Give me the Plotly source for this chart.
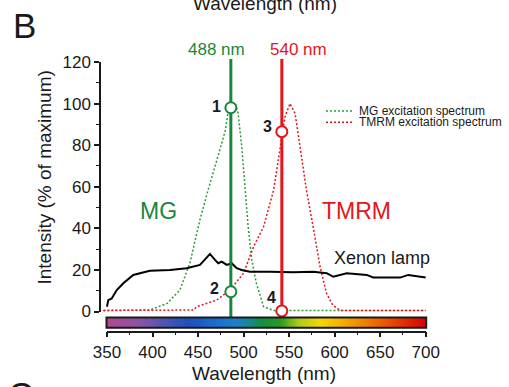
import numpy as np
import plotly.graph_objects as go

W, H = 509, 387
FONT = "Liberation Sans, Arial, sans-serif"
GREEN = "#17873a"
RED = "#e3161d"
DGREEN = "#2a9a3a"

# ---------------- data ----------------
mg_wl = [346, 380, 397, 416, 430, 441, 452, 461, 470, 476, 480, 483, 487, 491, 494, 498,
         501.5, 505, 509, 514, 522, 533, 560, 600, 650, 700]
mg_val = [0.5, 0.5, 0.7, 3.9, 10.3, 23.2, 44, 58.4, 71.3, 80.9, 87.2, 96.1, 99, 100, 95.3,
          79.3, 60, 40.8, 24.8, 13.6, 2.3, 0.5, 0.5, 0.5, 0.5, 0.5]

tmrm_wl = [346, 400, 445, 448.5, 470.5, 485, 500, 511, 522, 533, 540, 545.5, 551, 556.5,
           562, 569, 577, 584, 591, 598, 606, 650, 700]
tmrm_val = [0.5, 0.5, 0.7, 2.3, 5.5, 10.3, 18.4, 31.2, 40.8, 58.4, 79.3, 93.7, 100, 95.3,
            79.3, 58.4, 39.2, 21.5, 8.8, 3, 0.5, 0.5, 0.5]

xenon_wl = [350, 351.4, 355.2, 360.7, 367.9, 378.9, 386.2, 397.2, 419.2, 437.5, 452.1, 463.1,
            468.6, 472.2, 476, 481.5, 486.9, 492.4, 497.9, 507, 529, 554.6, 576.6, 591.3,
            598.5, 613.2, 635.2, 642.4, 671.8, 680.9, 700]
xenon_val = [2.3, 5.5, 6.3, 10.3, 13.6, 17.6, 18.4, 19.6, 20, 20.8, 22.4, 27.7, 24.8, 23.2,
             24, 22.4, 23.2, 20.8, 20, 19.1, 19.1, 18.9, 19.1, 18.4, 16.7, 18.4, 17.6, 16.4,
             16.3, 17.6, 16.4]

laser_nm = [486, 542]
laser_labels = ["488 nm", "540 nm"]
laser_top = 121.5
laser_bottom = [-2.8, 0.3]

point_nm = [486, 486, 542, 542]
point_val = [98, 9.5, 86.5, 0.3]
point_labels = ["1", "2", "3", "4"]

x_ticks = [350, 400, 450, 500, 550, 600, 650, 700]
y_ticks = [0, 20, 40, 60, 80, 100, 120]

spectrum_nm = [350, 385, 415, 440, 470, 490, 505, 520, 540, 560, 585, 615, 645, 675, 700]
spectrum_col = ["#b4468c", "#8a55a6", "#4a55b4", "#1e4fbe", "#1a6fd2", "#1d7fcc", "#128a9a",
                "#119042", "#2a9a20", "#aacc18", "#f7d800", "#f5a000", "#ee6a00", "#e43000",
                "#d80000"]

# ---------------- geometry (pixels) ----------------
X350, X700 = 107.0, 425.7
Y0, Y120 = 311.5, 62.0
pxnm = (X700 - X350) / 350.0
pxv = (Y0 - Y120) / 120.0


def px2wl(px):
    return 350 + (px - X350) / pxnm


def py2v(py):
    return (Y0 - py) / pxv


def fx(px):
    return px / W


def fy(py):
    return (H - py) / H


dxl, dxr, dyb, dyt = 90, 480, 335, 40

fig = go.Figure()

# dotted excitation spectra
fig.add_trace(go.Scatter(x=mg_wl, y=mg_val, mode="lines",
                         line=dict(color=DGREEN, width=1.5, dash="2px,2px"), xaxis="x", yaxis="y"))
fig.add_trace(go.Scatter(x=tmrm_wl, y=tmrm_val, mode="lines",
                         line=dict(color=RED, width=1.5, dash="2px,2px"), xaxis="x", yaxis="y"))
# xenon lamp
fig.add_trace(go.Scatter(x=xenon_wl, y=xenon_val, mode="lines",
                         line=dict(color="black", width=2), xaxis="x", yaxis="y"))
# laser lines
for nm, bot, col in zip(laser_nm, laser_bottom, [GREEN, RED]):
    fig.add_trace(go.Scatter(x=[nm, nm], y=[bot, laser_top], mode="lines",
                             line=dict(color=col, width=3), xaxis="x", yaxis="y"))
# points
pcols = [GREEN, GREEN, RED, RED]
fig.add_trace(go.Scatter(x=point_nm, y=point_val, mode="markers",
                         marker=dict(size=11, color="white", line=dict(color=pcols, width=2)),
                         xaxis="x", yaxis="y"))

# empty trace that registers the visible axis pair
fig.add_trace(go.Scatter(x=[], y=[], mode="lines", hoverinfo="skip", xaxis="x2", yaxis="y2"))

# spectrum colour bar (heatmap)
edges = np.linspace(350, 700, 351)
mids = (edges[:-1] + edges[1:]) / 2
cs = [[(n - 350) / 350.0, c] for n, c in zip(spectrum_nm, spectrum_col)]
fig.add_trace(go.Heatmap(x=edges, y=[0, 1], z=[mids], colorscale=cs, zmin=350, zmax=700,
                         showscale=False, hoverinfo="skip", xaxis="x3", yaxis="y3"))

hidden = dict(showline=False, showticklabels=False, showgrid=False, zeroline=False, ticks="")

fig.update_layout(
    width=W, height=H, autosize=False,
    margin=dict(l=0, r=0, t=0, b=0, pad=0, autoexpand=False),
    paper_bgcolor="white", plot_bgcolor="rgba(0,0,0,0)",
    showlegend=False,
    font=dict(family=FONT, color="#1a1a1a"),
    xaxis=dict(domain=[fx(dxl), fx(dxr)], range=[px2wl(dxl), px2wl(dxr)], anchor="y", **hidden),
    yaxis=dict(domain=[fy(dyb), fy(dyt)], range=[py2v(dyb), py2v(dyt)], anchor="x", **hidden),
    xaxis2=dict(domain=[fx(X350), fx(X700)], range=[350, 700], anchor="free", position=fy(331.5),
                showline=True, linecolor="#1a1a1a", linewidth=1.5, showgrid=False, zeroline=False,
                tickmode="array", tickvals=x_ticks, ticktext=[str(v) for v in x_ticks],
                ticks="outside", ticklen=5, tickwidth=1.5, tickcolor="#1a1a1a",
                tickfont=dict(size=17, family=FONT, color="#1a1a1a"),
                minor=dict(dtick=25, tick0=350, ticks="outside", ticklen=3, tickwidth=1.2,
                           tickcolor="#1a1a1a")),
    yaxis2=dict(domain=[fy(Y0), fy(Y120)], range=[0, 120], anchor="free", position=fx(100),
                showline=True, linecolor="#1a1a1a", linewidth=1.5, showgrid=False, zeroline=False,
                tickmode="array", tickvals=y_ticks, ticktext=[str(v) for v in y_ticks],
                ticks="outside", ticklen=5, tickwidth=1.5, tickcolor="#1a1a1a",
                tickfont=dict(size=17, family=FONT, color="#1a1a1a"),
                minor=dict(dtick=10, tick0=0, ticks="outside", ticklen=3, tickwidth=1.2,
                           tickcolor="#1a1a1a")),
    xaxis3=dict(domain=[fx(X350), fx(X700)], range=[350, 700], anchor="y3", **hidden),
    yaxis3=dict(domain=[fy(327.5), fy(317.7)], range=[0, 1], anchor="x3", **hidden),
)

# colour bar border
fig.add_shape(type="rect", xref="paper", yref="paper", x0=fx(106.5), x1=fx(426.2),
              y0=fy(327.8), y1=fy(317.4), line=dict(color="#1a1a1a", width=2), layer="above")

ann = []


def txt(text, x, y, size, color="#1a1a1a", xref="paper", yref="paper", **kw):
    d = dict(text=text, x=x, y=y, xref=xref, yref=yref, showarrow=False,
             xanchor=kw.pop("xanchor", "center"), yanchor="middle",
             font=dict(size=size, family=FONT, color=color))
    d.update(kw)
    ann.append(d)


# axis titles
txt("Wavelength (nm)", fx(264), fy(373), 19)
txt("Wavelength (nm)", fx(265), fy(3.2), 19)
txt("Intensity (% of maximum)", fx(44), fy(177.5), 19, textangle=-90)
# panel letters
txt("B", fx(24.5), fy(25.8), 35)
txt("C", fx(20.5), fy(394), 35)
# laser labels
for cx, lab, col in zip([216, 298], laser_labels, [GREEN, RED]):
    txt(lab, fx(cx), fy(49.2), 17, col)
# dye labels
txt("MG", 407, 48.3, 23, GREEN, xref="x", yref="y")
txt("TMRM", 623.5, 48.3, 23, RED, xref="x", yref="y")
txt("Xenon lamp", 652, 25.7, 18, xref="x", yref="y")
# point numbers
shifts = [(-14, 1), (-16, 3), (-14, 5), (-10, 13)]
for nm, v, lab, (sx, sy) in zip(point_nm, point_val, point_labels, shifts):
    txt("<b>%s</b>" % lab, nm, v, 16, xref="x", yref="y", xshift=sx, yshift=sy)
# legend
for py, lab, col in [(111, "MG excitation spectrum", DGREEN),
                     (122.3, "TMRM excitation spectrum", RED)]:
    fig.add_shape(type="line", xref="paper", yref="paper", x0=fx(326), x1=fx(352),
                  y0=fy(py), y1=fy(py), line=dict(color=col, width=1.5, dash="2px,2px"))
    txt(lab, fx(357), fy(py), 12, xanchor="left")

fig.update_layout(annotations=ann)
fig.write_html("out.html", config={"displayModeBar": False},
               post_script="document.body.style.margin='0px';document.body.style.overflow='hidden';")
